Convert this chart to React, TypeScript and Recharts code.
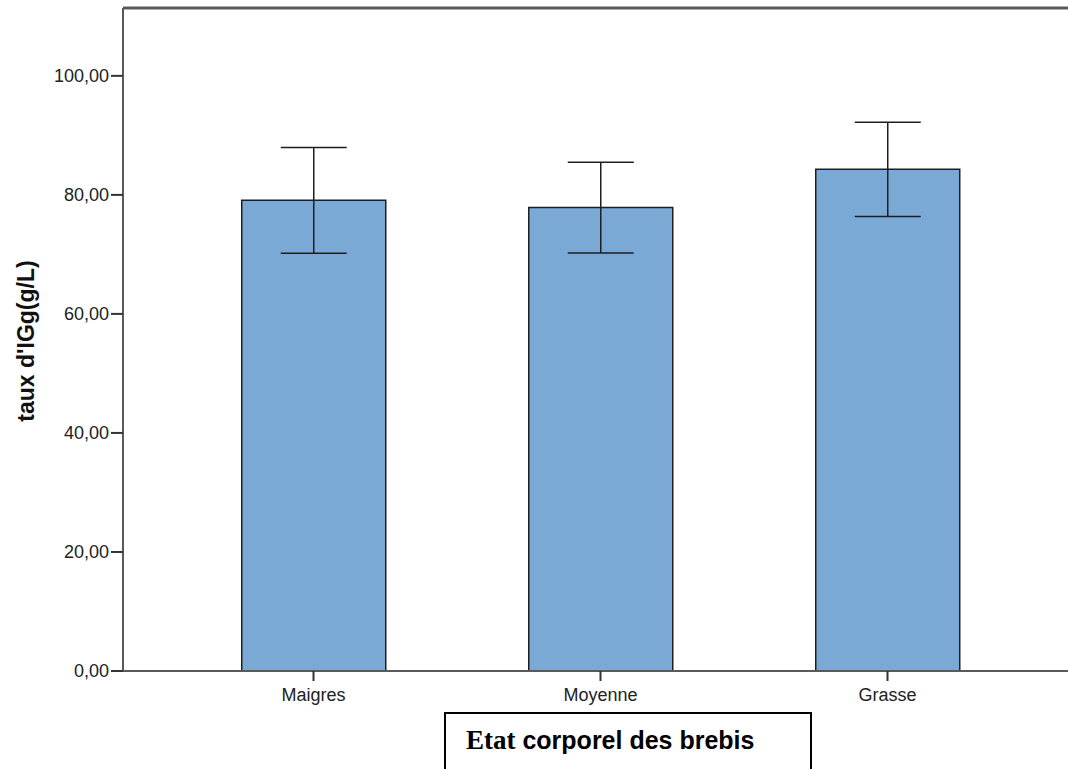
import { BarChart, Bar, XAxis, YAxis, ErrorBar, ReferenceLine } from 'recharts';

const categories = ['Maigres', 'Moyenne', 'Grasse'];
const means = [79.1, 77.9, 84.3];
const lowerCI = [70.2, 70.25, 76.35];
const upperCI = [87.95, 85.5, 92.2];
const yTicks = [0, 20, 40, 60, 80, 100];
const yMax = 111.4;

const data = categories.map((name, i) => ({
  name,
  taux: means[i],
  err: [means[i] - lowerCI[i], upperCI[i] - means[i]],
}));

const fmt = (v: number) => v.toFixed(2).replace('.', ',');

const axisColor = '#5a5a5a';
const sans = 'Arial, "Liberation Sans", sans-serif';
const tickText = { fill: '#222', fontSize: 18, fontFamily: sans };

export default function App() {
  return (
    <div
      style={{
        position: 'absolute',
        left: 0,
        top: 0,
        width: 1068,
        height: 769,
        overflow: 'hidden',
        background: '#fff',
      }}
    >
      <BarChart
        width={1100}
        height={769}
        data={data}
        margin={{ top: 8, right: 21, left: 0, bottom: 68 }}
        barCategoryGap="25%"
      >
        <XAxis
          dataKey="name"
          height={30}
          padding={{ left: 47, right: 48 }}
          tick={tickText}
          tickSize={10}
          tickLine={{ stroke: '#333', strokeWidth: 2 }}
          axisLine={{ stroke: axisColor, strokeWidth: 2 }}
          tickMargin={7}
        />
        <YAxis
          width={123}
          domain={[0, yMax]}
          ticks={yTicks}
          tickFormatter={fmt}
          tick={tickText}
          tickSize={12}
          tickMargin={2}
          tickLine={{ stroke: '#333', strokeWidth: 2 }}
          axisLine={{ stroke: axisColor, strokeWidth: 2 }}
          allowDataOverflow
        />
        <ReferenceLine y={yMax} stroke={axisColor} strokeWidth={3} ifOverflow="visible" />
        <Bar
          dataKey="taux"
          fill="#7ba9d6"
          stroke="#1e1e1e"
          strokeWidth={1.5}
          isAnimationActive={false}
        >
          <ErrorBar dataKey="err" width={33} stroke="#1e1e1e" strokeWidth={1.5} direction="y" />
        </Bar>
      </BarChart>

      <div
        style={{
          position: 'absolute',
          left: 26,
          top: 341,
          transform: 'translate(-50%, -50%) rotate(-90deg)',
          whiteSpace: 'nowrap',
          fontFamily: sans,
          fontWeight: 'bold',
          fontSize: 23,
          color: '#111',
        }}
      >
        taux d'IGg(g/L)
      </div>

      <div
        style={{
          position: 'absolute',
          left: 444,
          top: 712,
          width: 368,
          height: 80,
          border: '2px solid #000',
          boxSizing: 'border-box',
        }}
      >
        <div
          style={{
            position: 'absolute',
            left: 20,
            top: 11,
            whiteSpace: 'nowrap',
            fontWeight: 'bold',
            fontSize: 25,
            color: '#000',
          }}
        >
          <span style={{ fontFamily: '"Liberation Serif", "Times New Roman", serif', fontSize: 27 }}>Etat</span>
          <span style={{ fontFamily: sans }}> corporel des brebis</span>
        </div>
      </div>
    </div>
  );
}
